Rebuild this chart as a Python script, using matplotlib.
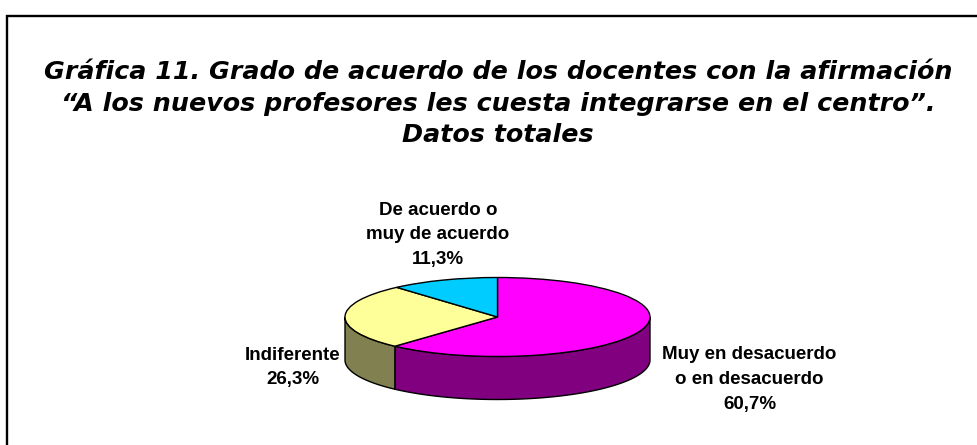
import numpy as np
import matplotlib
matplotlib.use('Agg')
import matplotlib.pyplot as plt
from matplotlib.patches import Polygon
from matplotlib.lines import Line2D

# Datos
categorias = ['Muy en desacuerdo\no en desacuerdo', 'Indiferente', 'De acuerdo o\nmuy de acuerdo']
valores = [60.7, 26.3, 11.3]
porcentajes = ['60,7%', '26,3%', '11,3%']
colores = ['#FF00FF', '#FFFF99', '#00CCFF']
colores_lado = ['#800080', '#808050', '#006680']
titulo = ('Gráfica 11. Grado de acuerdo de los docentes con la afirmación\n'
          '“A los nuevos profesores les cuesta integrarse en el centro”.\n'
          'Datos totales')

W, H = 978, 445
cx, cy = 497.5, 317
rx, ry = 152.5, 39.5
prof = 43 / ry  # profundidad en unidades del eje

fig = plt.figure(figsize=(W / 100, H / 100), dpi=100, facecolor='white')
ax = fig.add_axes([0, 0, 1, 1])

# Cara superior
wedges, _ = ax.pie(valores, colors=colores, startangle=90, counterclock=False,
                   radius=1, wedgeprops={'edgecolor': 'black', 'linewidth': 1.0}, frame=True)
for w in wedges:
    w.set_zorder(3)

# Paredes laterales (solo la parte frontal, 180-360 grados)
total = sum(valores)
ang = 90.0
for v, c in zip(valores, colores_lado):
    a2 = ang - v / total * 360
    t = np.linspace(a2, ang, 200)
    t = np.mod(t, 360)
    t = t[t >= 180]
    if len(t) > 1:
        t = np.sort(t)
        x = np.cos(np.radians(t))
        y = np.sin(np.radians(t))
        pts = np.vstack([np.column_stack([x, y]),
                         np.column_stack([x[::-1], y[::-1] - prof])])
        ax.add_patch(Polygon(pts, closed=True, facecolor=c, edgecolor='black',
                             linewidth=1.0, zorder=2))
    ang = a2

ax.set_aspect('auto')
ax.set_xlim(-cx / rx, (W - cx) / rx)
ax.set_ylim(-(H - cy) / ry, cy / ry)
ax.axis('off')

# Marco: solo lineas superior e izquierda, llegan al borde de la imagen
fig.add_artist(Line2D([7 / W, 7 / W, 1], [0, 1 - 16 / H, 1 - 16 / H], color='black',
                      linewidth=1.7, solid_joinstyle='miter'))

fig.text(498 / W, 1 - 103.5 / H, titulo, ha='center', va='center', fontsize=18.3,
         family='DejaVu Sans', fontweight='bold', fontstyle='oblique', linespacing=1.37)

# Etiquetas
fuente = {'family': 'Liberation Sans', 'fontweight': 'bold', 'fontsize': 13.5,
          'ha': 'center', 'va': 'center', 'linespacing': 1.58}
pos = [(749.5, 379.5), (293, 367.5), (438, 235)]
for cat, pct, (px, py) in zip(categorias, porcentajes, pos):
    fig.text(px / W, 1 - py / H, cat + '\n' + pct, **fuente)

fig.savefig('out.png', dpi=100, facecolor='white')
